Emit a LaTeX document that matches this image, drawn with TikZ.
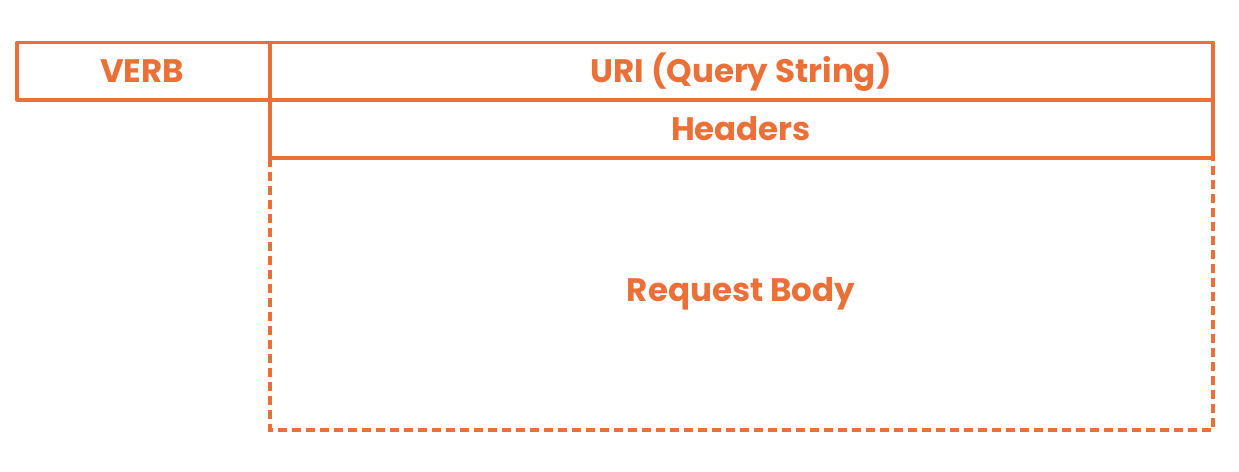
\documentclass[tikz,border=0pt]{standalone}
\usepackage{fontspec}
\setmainfont{Poppins}
\definecolor{org}{RGB}{234,112,56}
\begin{document}
\begin{tikzpicture}[x=1pt,y=-1pt,
  boxline/.style={draw=org,line width=3.3pt,line join=round},
  dashline/.style={draw=org,line width=3.3pt,dash pattern=on 9pt off 5pt},
  lbl/.style={text=org,font=\fontsize{32.5}{36}\selectfont\bfseries,inner sep=0pt}]
\useasboundingbox (0,0) rectangle (1239,471);
\fill[white] (0,0) rectangle (1239,471);
\draw[dashline] (270,158) rectangle (1213,430);
\draw[boxline] (17,42.5) rectangle (270,100);
\draw[boxline] (270,42.5) rectangle (1213,100);
\draw[boxline] (270,100) rectangle (1213,158);
\node[lbl] (verb) at (142,71) {VERB};
\node[lbl] (uri) at (741,72) {URI (Query String)};
\node[lbl] (hdr) at (741,129) {Headers};
\node[lbl] (body) at (741,294) {Request Body};
\end{tikzpicture}
\end{document}
